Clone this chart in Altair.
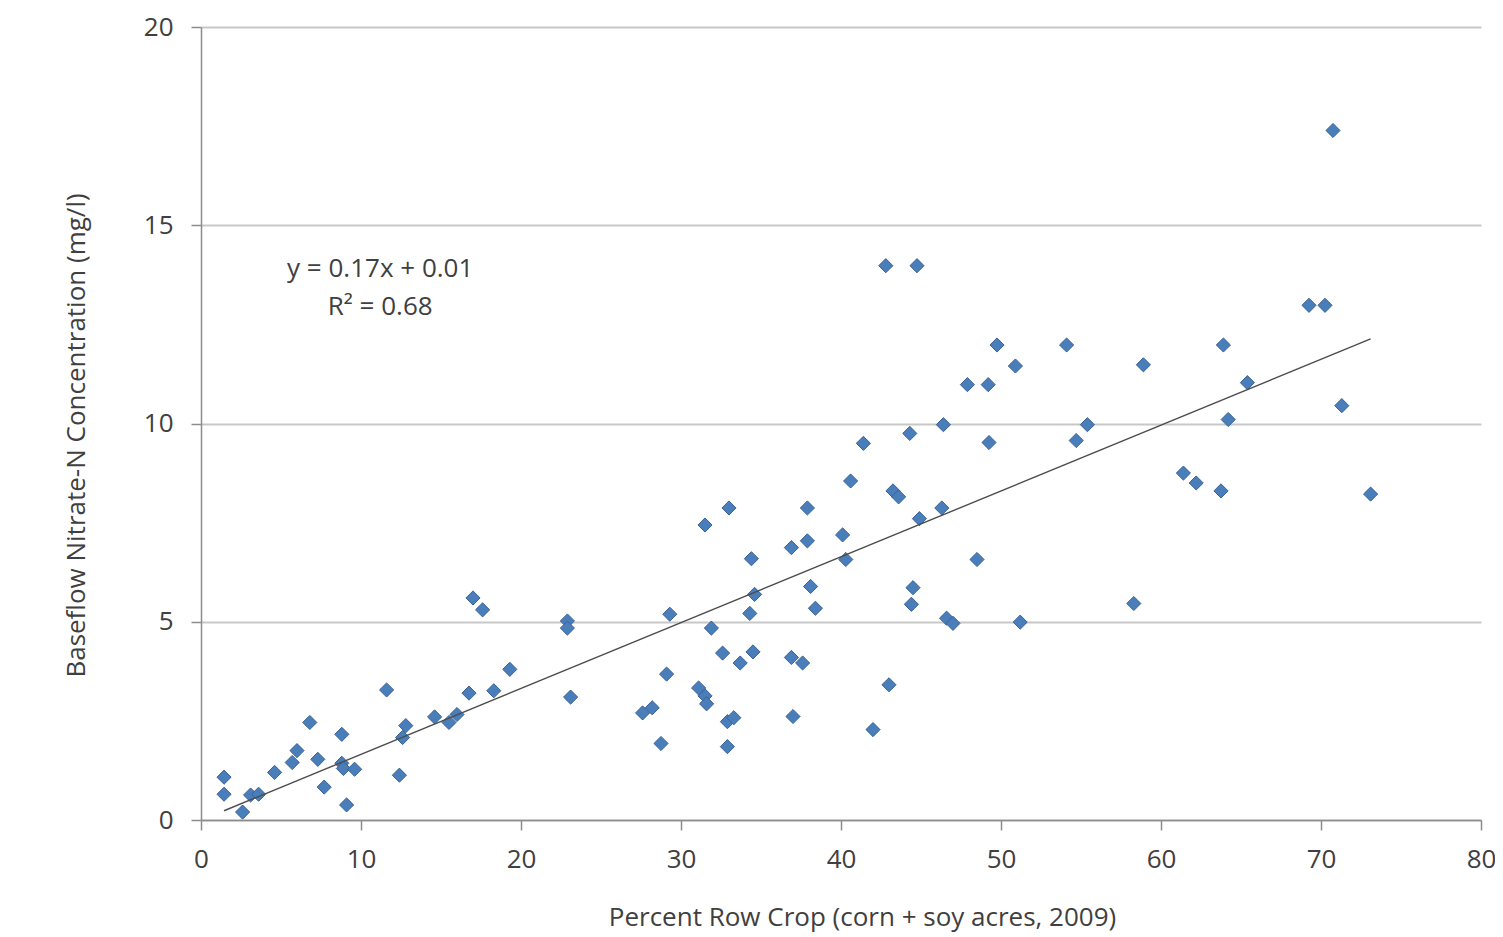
import altair as alt
import pandas as pd

# Percent row crop (x) and baseflow nitrate-N concentration (y)
row_crop = [
    1.44, 1.44, 2.6, 3.1, 3.6, 4.6, 5.7, 6.0, 6.8, 7.3, 7.7, 8.8, 8.8, 8.9, 9.6, 9.1,
    11.6, 12.4, 12.6, 12.8, 14.6, 15.5, 16.0, 16.75, 17.0, 17.6, 18.3, 19.3,
    22.9, 22.9, 23.1, 27.6, 28.2, 28.75, 29.1, 29.3, 31.1, 31.5, 31.6, 31.5,
    31.9, 32.6, 32.9, 33.3, 32.9, 33.0, 33.7, 34.3, 34.4, 34.5, 34.6, 36.9,
    36.9, 37.0, 37.6, 37.9, 37.9, 38.1, 38.4, 40.1, 40.3, 40.6, 41.4, 42.0,
    42.8, 43.0, 43.25, 43.6, 44.3, 44.4, 44.5, 44.75, 44.9, 46.3, 46.4, 46.6,
    47.0, 47.9, 48.5, 49.2, 49.25, 49.75, 50.9, 51.2, 54.1, 54.7, 55.4, 58.3,
    58.9, 61.4, 62.2, 63.75, 63.9, 64.2, 65.4, 69.25, 70.25, 70.75, 71.3, 73.1,
]
nitrate = [
    1.08, 0.65, 0.2, 0.63, 0.65, 1.2, 1.45, 1.75, 2.46, 1.53, 0.83, 2.16, 1.43, 1.3, 1.28, 0.38,
    3.28, 1.13, 2.08, 2.38, 2.6, 2.46, 2.66, 3.2, 5.6, 5.3, 3.26, 3.8,
    5.02, 4.84, 3.1, 2.7, 2.83, 1.93, 3.68, 5.19, 3.33, 3.13, 2.93, 7.44,
    4.84, 4.21, 2.48, 2.58, 1.85, 7.87, 3.96, 5.21, 6.59, 4.24, 5.69, 6.87,
    4.1, 2.61, 3.96, 7.87, 7.04, 5.89, 5.34, 7.19, 6.57, 8.55, 9.5, 2.28,
    13.98, 3.41, 8.3, 8.15, 9.75, 5.44, 5.86, 13.98, 7.6, 7.87, 9.97, 5.09,
    4.96, 10.98, 6.57, 10.98, 9.52, 11.98, 11.45, 4.99, 11.98, 9.57, 9.97, 5.46,
    11.48, 8.75, 8.5, 8.3, 11.98, 10.1, 11.03, 12.98, 12.98, 17.39, 10.45, 8.22,
]

x_ticks = [0, 10, 20, 30, 40, 50, 60, 70, 80]
y_ticks = [0, 5, 10, 15, 20]

eq_lines = ["y = 0.17x + 0.01", "R\u00b2 = 0.68"]
eq_x = [11.2, 11.2]
eq_y = [13.9, 12.95]

FONT = "Open Sans"
TXT = "#404040"
FS = 26

df = pd.DataFrame({"x": row_crop, "y": nitrate})
ann = pd.DataFrame({"label": eq_lines, "x": eq_x, "y": eq_y})

x_enc = alt.X(
    "x:Q",
    scale=alt.Scale(domain=[0, 80], nice=False, zero=False),
    axis=alt.Axis(
        values=x_ticks, grid=False, title="Percent Row Crop (corn + soy acres, 2009)",
        tickSize=10, labelPadding=16, titlePadding=32, labelFlush=False, titleX=661,
    ),
)
y_enc = alt.Y(
    "y:Q",
    scale=alt.Scale(domain=[0, 20], nice=False),
    axis=alt.Axis(
        values=y_ticks, grid=True, title="Baseflow Nitrate-N Concentration (mg/l)",
        tickSize=10, labelPadding=18, titlePadding=54, labelFlush=False, titleY=408,
    ),
)

points = alt.Chart(df).mark_point(
    shape="diamond", filled=True, size=200, color="#4a7ebb",
    stroke="#3a6294", strokeWidth=1, opacity=1,
).encode(x=x_enc, y=y_enc)

trend = alt.Chart(df).transform_regression(
    "x", "y", extent=[1.44, 73.1]
).mark_line(color="#4d4d4d", strokeWidth=1.4).encode(x="x:Q", y="y:Q")

text = alt.Chart(ann).mark_text(
    font=FONT, fontSize=FS, color=TXT, align="center", baseline="middle",
).encode(x="x:Q", y="y:Q", text="label:N")

chart = (
    alt.layer(points, trend, text)
    .properties(
        width=1280, height=793,
        autosize=alt.AutoSizeParams(type="none"),
        padding={"left": 193, "top": 19, "right": 14, "bottom": 115},
        background="white",
    )
    .configure_view(stroke=None)
    .configure_axis(
        domainColor="#8c8c8c", domainWidth=1.5,
        tickColor="#8c8c8c", tickWidth=1.5,
        gridColor="#c8c8c8", gridWidth=2,
        labelFont=FONT, labelFontSize=FS, labelColor=TXT,
        titleFont=FONT, titleFontSize=FS, titleColor=TXT, titleFontWeight="normal",
    )
)

chart.save("out.html", embed_options={"renderer": "svg", "actions": False})
